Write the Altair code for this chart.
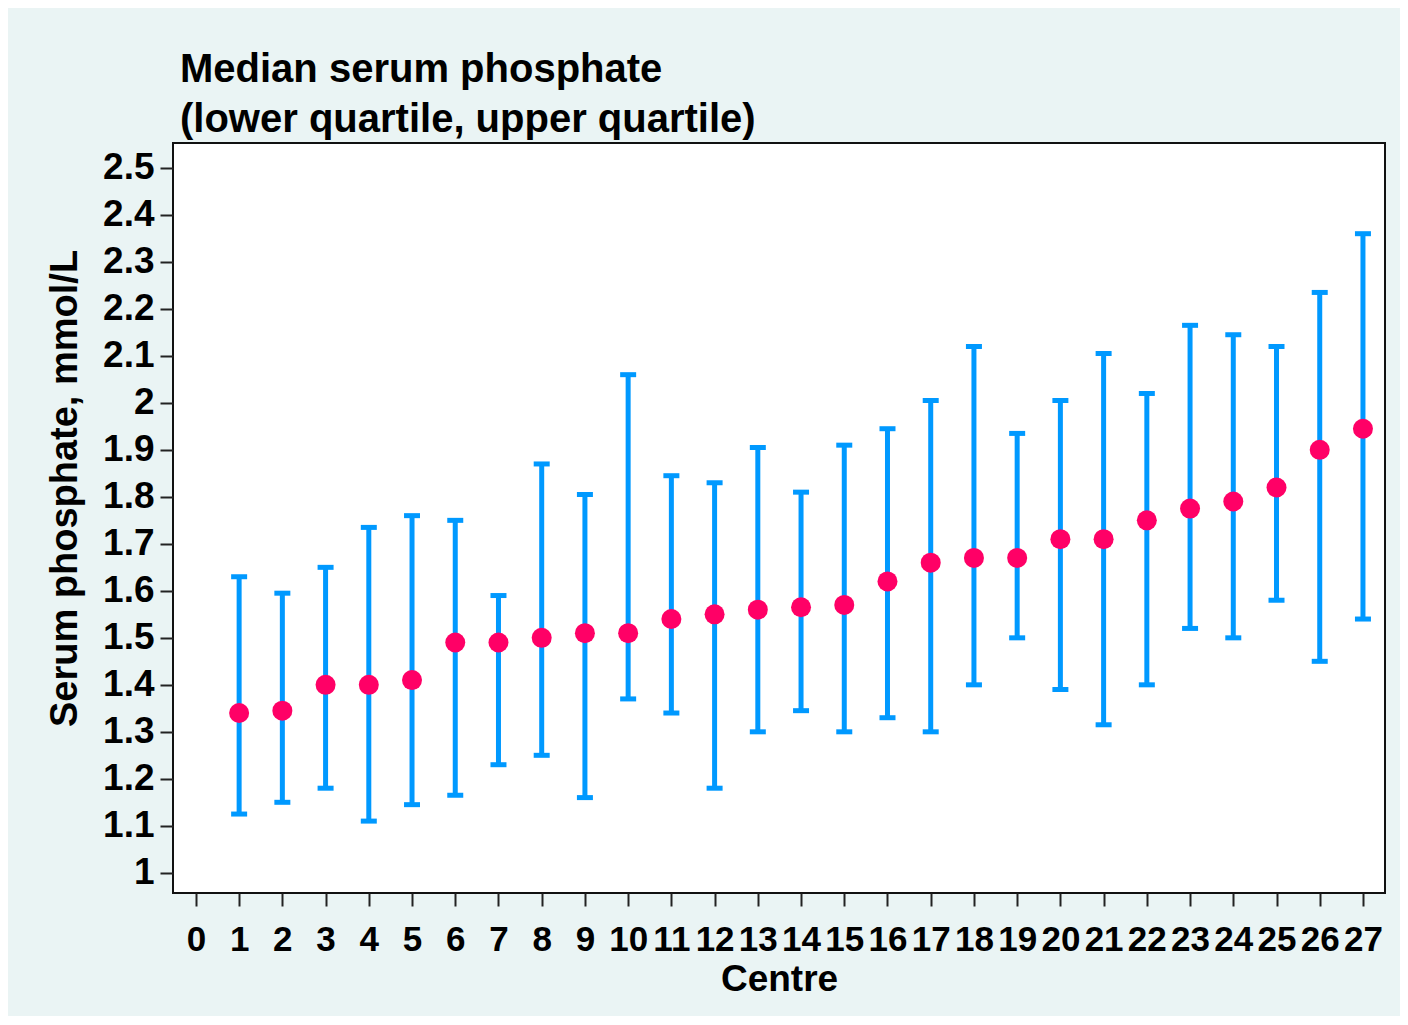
import altair as alt
import pandas as pd

centre = list(range(1, 28))
median = [1.34, 1.345, 1.40, 1.40, 1.41, 1.49, 1.49, 1.50, 1.51, 1.51, 1.54, 1.55, 1.56, 1.565,
          1.57, 1.62, 1.66, 1.67, 1.67, 1.71, 1.71, 1.75, 1.775, 1.79, 1.82, 1.90, 1.945]
lower = [1.125, 1.15, 1.18, 1.11, 1.145, 1.165, 1.23, 1.25, 1.16, 1.37, 1.34, 1.18, 1.30, 1.345,
         1.30, 1.33, 1.30, 1.40, 1.50, 1.39, 1.315, 1.40, 1.52, 1.50, 1.58, 1.45, 1.54]
upper = [1.63, 1.595, 1.65, 1.735, 1.76, 1.75, 1.59, 1.87, 1.805, 2.06, 1.845, 1.83, 1.905, 1.81,
         1.91, 1.945, 2.005, 2.12, 1.935, 2.005, 2.105, 2.02, 2.165, 2.145, 2.12, 2.235, 2.36]

x_ticks = list(range(0, 28))
y_ticks = [1.0, 1.1, 1.2, 1.3, 1.4, 1.5, 1.6, 1.7, 1.8, 1.9, 2.0, 2.1, 2.2, 2.3, 2.4, 2.5]

df = pd.DataFrame({"centre": centre, "median": median, "lower": lower, "upper": upper})

FONT = "Liberation Sans"
BLUE = "#0099FF"
PINK = "#FF0066"

xscale = alt.Scale(domain=[-0.53, 27.51], nice=False, zero=False)
yscale = alt.Scale(domain=[0.957, 2.553], nice=False, zero=False)

xaxis = alt.Axis(values=x_ticks, title="Centre", grid=False, domain=False,
                 tickSize=13, tickWidth=2, tickColor="#222222",
                 labelFont=FONT, labelFontSize=35, labelFontWeight="bold", labelColor="black",
                 labelPadding=16, labelFlush=False, labelOverlap=False, labelAngle=0,
                 titleFont=FONT, titleFontSize=37, titleFontWeight="bold", titleColor="black",
                 titlePadding=4)
yaxis = alt.Axis(values=y_ticks, format="~g", title="Serum phosphate, mmol/L", grid=False,
                 domain=False, tickSize=13, tickWidth=2, tickColor="#222222",
                 labelFont=FONT, labelFontSize=37, labelFontWeight="bold", labelColor="black",
                 labelPadding=6, labelOverlap=False, labelFlush=False,
                 titleFont=FONT, titleFontSize=38, titleFontWeight="bold", titleColor="black",
                 titleX=-89, titleY=345)

base = alt.Chart(df)

bars = base.mark_rule(color=BLUE, strokeWidth=5).encode(
    x=alt.X("centre:Q", scale=xscale, axis=xaxis),
    y=alt.Y("lower:Q", scale=yscale, axis=yaxis),
    y2="upper:Q",
)

caps = base.transform_fold(["lower", "upper"], as_=["which", "val"]).mark_tick(
    color=BLUE, orient="horizontal", size=16, thickness=5, opacity=1
).encode(
    x=alt.X("centre:Q", scale=xscale),
    y=alt.Y("val:Q", scale=yscale),
)

dots = base.mark_circle(color=PINK, size=400, opacity=1).encode(
    x=alt.X("centre:Q", scale=xscale),
    y=alt.Y("median:Q", scale=yscale),
)

chart = alt.layer(bars, caps, dots).properties(
    width=1212,
    height=750,
    background="#EAF4F4",
    padding={"left": 165, "top": 135, "right": 15, "bottom": 123},
    autosize=alt.AutoSizeParams(type="none"),
    title=alt.TitleParams(
        text=["Median serum phosphate", "(lower quartile, upper quartile)"],
        anchor="start", frame="group", dx=7, offset=3,
        font=FONT, fontSize=40, fontWeight="bold", color="black", lineHeight=50,
    ),
).configure_view(
    fill="white", stroke="#111111", strokeWidth=2
)

chart.save("out.html", embed_options={"renderer": "svg", "actions": False})
